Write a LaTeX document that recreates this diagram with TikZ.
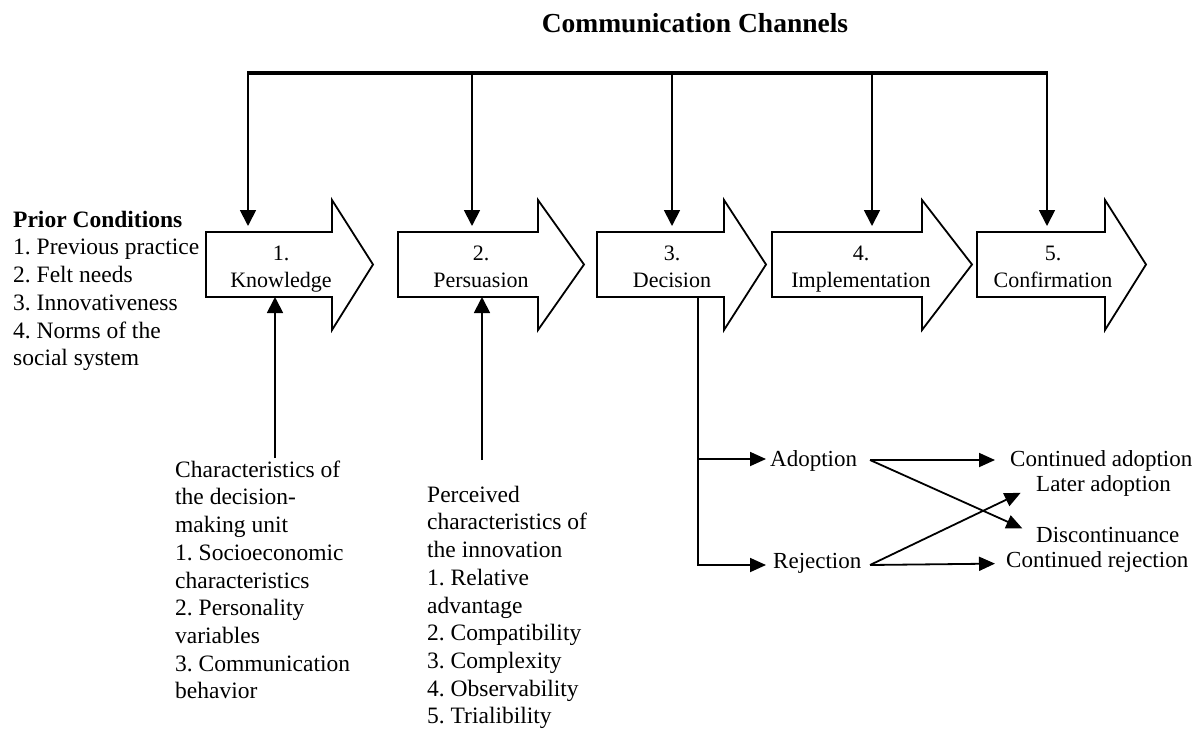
\documentclass[tikz,border=0pt]{standalone}
\usepackage{fontspec}
\setmainfont{Liberation Serif}
\usetikzlibrary{arrows.meta,calc}
\frenchspacing

% fixed-height strut so that the first baseline of a list sits 20pt below its top
\newcommand\topstrut{\rule{0pt}{20pt}}

% one stage of the process: a block arrow built round a named shaft node
% #1 name, #2 left x, #3 shaft length, #4 head length
\newcommand\stagearrow[4]{%
  \node[shaft, minimum width=#3] (#1) at (#2,232) {};
  \draw[stage] (#1.north west) -- (#1.north east) -- ++(0,-32)
    -- ($(#1.east)+(#4,0)$) -- ($(#1.south east)+(0,33)$)
    -- (#1.south east) -- (#1.south west) -- cycle;
}

\begin{document}
\begin{tikzpicture}[x=1pt,y=-1pt,
  stage/.style={draw=black, line width=1.8pt, line join=miter},
  shaft/.style={draw=none, inner sep=0pt, outer sep=0pt, minimum height=65pt, anchor=north west},
  trunk/.style={line width=3.6pt},
  channel/.style={line width=1.8pt, -{Triangle[length=16pt,width=16pt]}},
  flow/.style={line width=1.8pt, line join=miter, -{Triangle[length=16pt,width=14pt]}},
  stagetext/.style={font=\fontsize{22}{27}\selectfont, inner sep=0pt, anchor=base},
  outcome/.style={font=\fontsize{23}{28}\selectfont, inner sep=0pt, anchor=base west},
  listtext/.style={font=\fontsize{23.5}{27.7}\selectfont, align=left, inner sep=0pt, anchor=north west},
]
\path[use as bounding box, fill=white] (0,0) rectangle (1200,729);

% title
\node[font=\bfseries\fontsize{27.5}{33}\selectfont, inner sep=0pt, anchor=base] (title) at (695,32) {Communication Channels};

% the five stages
\stagearrow{k}{206}{126}{41}
\stagearrow{p}{398}{140}{46}
\stagearrow{d}{597}{127}{42}
\stagearrow{i}{772}{150}{50}
\stagearrow{c}{977}{128}{41}

\node[stagetext] (k-no) at (281,260) {1.};
\node[stagetext] (k-name) at (281,287) {Knowledge};
\node[stagetext] (p-no) at (481,260) {2.};
\node[stagetext] (p-name) at (481,287) {Persuasion};
\node[stagetext] (d-no) at (672,260) {3.};
\node[stagetext] (d-name) at (672,287) {Decision};
\node[stagetext] (i-no) at (861,260) {4.};
\node[stagetext] (i-name) at (861,287) {Implementation};
\node[stagetext] (c-no) at (1053,260) {5.};
\node[stagetext] (c-name) at (1053,287) {Confirmation};

% communication channels feeding every stage
\coordinate (t1) at (248,73);
\coordinate (t2) at (472,73);
\coordinate (t3) at (672,73);
\coordinate (t4) at (872,73);
\coordinate (t5) at (1047,73);
\draw[trunk] ($(t1)+(-0.9,0)$) -- ($(t5)+(0.9,0)$);
\draw[channel, shorten >=6pt] (t1) -- (t1 |- k.north);
\draw[channel, shorten >=6pt] (t2) -- (t2 |- p.north);
\draw[channel, shorten >=6pt] (t3) -- (t3 |- d.north);
\draw[channel, shorten >=6pt] (t4) -- (t4 |- i.north);
\draw[channel, shorten >=6pt] (t5) -- (t5 |- c.north);

% prior conditions
\node[listtext] (prior) at (13,207) {\topstrut\textbf{Prior Conditions}\\
  1. Previous practice\\
  2. Felt needs\\
  3. Innovativeness\\
  4. Norms of the\\
  social system};

% characteristics of the decision-making unit
\node[listtext] (unit) at (175,457) {\topstrut Characteristics of\\
  the decision-\\
  making unit\\
  1. Socioeconomic\\
  characteristics\\
  2. Personality\\
  variables\\
  3. Communication\\
  behavior};
\coordinate (unit-in) at (275,458);
\draw[channel] (unit-in) -- (unit-in |- k.south);

% perceived characteristics of the innovation
\node[listtext] (innov) at (427,482) {\topstrut Perceived\\
  characteristics of\\
  the innovation\\
  1. Relative\\
  advantage\\
  2. Compatibility\\
  3. Complexity\\
  4. Observability\\
  5. Trialibility};
\coordinate (innov-in) at (482,460);
\draw[channel] (innov-in) -- (innov-in |- p.south);

% outcomes of the decision
\node[outcome] (adopt) at (770,466) {Adoption};
\node[outcome] (reject) at (773,568) {Rejection};
\node[outcome] (contad) at (1010,466) {Continued adoption};
\node[outcome] (later) at (1036,491) {Later adoption};
\node[outcome] (discon) at (1036,542) {Discontinuance};
\node[outcome] (contrej) at (1006,567) {Continued rejection};

\coordinate (d-out) at (698,297);
\coordinate (d-up) at (698,459);
\coordinate (d-low) at (698,565);
\draw[flow, shorten >=7pt] (d-out) -- (d-low) -- (d-low -| reject.west);
\draw[flow, shorten >=4pt] (d-up) -- (d-up -| adopt.west);

\coordinate (a-out) at (870,460);
\coordinate (r-out) at (870,565);
\draw[flow, shorten >=15pt] (a-out) -- (a-out -| contad.west);
\draw[flow, shorten >=15pt] (a-out) -- (discon.west);
\draw[flow, shorten >=17pt] (r-out) -- (later.west);
\draw[flow, shorten >=11pt] (r-out) -- ($(r-out -| contrej.west)+(0,-1.5)$);
\end{tikzpicture}
\end{document}
